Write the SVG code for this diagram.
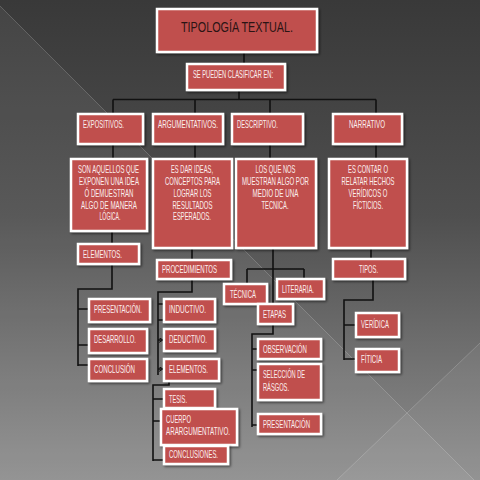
<svg xmlns="http://www.w3.org/2000/svg" width="480" height="480" viewBox="0 0 480 480">
<defs>
<linearGradient id="bg" x1="0" y1="0" x2="0" y2="1">
<stop offset="0" stop-color="#393939"/>
<stop offset="0.45" stop-color="#4f4f4f"/>
<stop offset="1" stop-color="#8e8e8e"/>
</linearGradient>
<filter id="sh" x="-10%" y="-10%" width="130%" height="140%">
<feDropShadow dx="1.5" dy="1.5" stdDeviation="1" flood-color="#000" flood-opacity="0.55"/>
</filter>
<marker id="arr" viewBox="0 0 6 6" refX="5" refY="3" markerWidth="5" markerHeight="5" orient="auto" markerUnits="userSpaceOnUse">
<path d="M0,0 L5,3 L0,6" fill="none" stroke="#111" stroke-width="1.2"/>
</marker>
<style>
.box{fill:#c0504d;stroke:#ffffff;stroke-width:2.5;filter:url(#sh)}
.t{font-family:"Liberation Sans",Arial,sans-serif;font-size:10px;fill:#fbeeee;transform:scale(0.75,1);transform-origin:0 0}
.c{text-anchor:middle}
.title{font-family:"Liberation Sans",Arial,sans-serif;font-size:15px;fill:#2a1414;text-anchor:middle}
.ln{fill:none;stroke:#111;stroke-width:1.6}
</style>
</defs>
<rect width="480" height="480" fill="url(#bg)"/>
<polygon points="0,6 474,480 0,480" fill="#ffffff" opacity="0.06"/>
<polygon points="337,480 480,343 480,480" fill="#ffffff" opacity="0.05"/>
<line x1="0" y1="6" x2="474" y2="480" stroke="#ffffff" stroke-opacity="0.18" stroke-width="1"/>
<line x1="480" y1="343" x2="337" y2="480" stroke="#ffffff" stroke-opacity="0.18" stroke-width="1"/>

<g id="connectors">
<path class="ln" d="M244,52 V64 M239,90 V99.5 M113,99.5 H376 M113,99.5 V114 M195,99.5 V114 M270,99.5 V114 M376,99.5 V114"/>
<path class="ln" d="M113,144 V159 M195,144 V159 M270,144 V159 M376,144 V159"/>
<path class="ln" d="M112,231 V244 M112,264 V289 H78 V366 M78,309 H89 M78,345 H89 M78,365 H89"/>
<path class="ln" d="M192,248 V260 M192,279 V292 H158 V375 M158,304 H164 M158,320 H164"/>
<line class="ln" x1="158" y1="340" x2="163" y2="340" marker-end="url(#arr)"/>
<line class="ln" x1="158" y1="369" x2="163" y2="369" marker-end="url(#arr)"/>
<path class="ln" d="M169,381 V385 H153 V461 M153,399 H164 M153,421 H161 M153,460 H164"/>
<path class="ln" d="M273,248 V304 M247,269 H304 M247,269 V284 M304,269 V279"/>
<path class="ln" d="M273,324 V334 H252 V427 M252,349 H258 M252,370 H258 M252,425 H258"/>
<path class="ln" d="M371,248 V259 M373,279 V300 H344 V360 M344,325 H356 M344,359 H356"/>
</g>

<g id="n-title"><rect class="box" x="157" y="9" width="160" height="43"/><text class="title" x="237" y="32" textLength="112" lengthAdjust="spacingAndGlyphs">TIPOLOGÍA TEXTUAL.</text></g>
<g id="n-clasificar"><rect class="box" x="187" y="64" width="98" height="26"/><text class="t" x="257.33" y="78.5" textLength="106.67" lengthAdjust="spacingAndGlyphs">SE PUEDEN CLASIFICAR EN:</text></g>

<g id="n-expositivos"><rect class="box" x="78" y="114" width="65" height="30"/><text class="t" x="110.67" y="128.5" textLength="54.67" lengthAdjust="spacingAndGlyphs">EXPOSITIVOS.</text></g>
<g id="n-argumentativos"><rect class="box" x="153" y="114" width="70" height="30"/><text class="t" x="210.67" y="128.5" textLength="80" lengthAdjust="spacingAndGlyphs">ARGUMENTATIVOS.</text></g>
<g id="n-descriptivo"><rect class="box" x="232" y="114" width="71" height="30"/><text class="t" x="316" y="128.5" textLength="54.67" lengthAdjust="spacingAndGlyphs">DESCRIPTIVO.</text></g>
<g id="n-narrativo"><rect class="box" x="333" y="114" width="69" height="30"/><text class="t" x="465.33" y="128.5" textLength="48" lengthAdjust="spacingAndGlyphs">NARRATIVO</text></g>

<g id="n-exp-def"><rect class="box" x="71" y="159" width="76" height="72"/>
<text class="t c" x="144.67" y="172.6" textLength="81.33" lengthAdjust="spacingAndGlyphs">SON AQUELLOS QUE</text>
<text class="t c" x="145.33" y="184.6" textLength="80" lengthAdjust="spacingAndGlyphs">EXPONEN UNA IDEA</text>
<text class="t c" x="145.33" y="196.6" textLength="65.33" lengthAdjust="spacingAndGlyphs">Ó DEMUESTRAN</text>
<text class="t c" x="145.33" y="208.6" textLength="74.67" lengthAdjust="spacingAndGlyphs">ALGO DE MANERA</text>
<text class="t c" x="146.67" y="219.6" textLength="28" lengthAdjust="spacingAndGlyphs">LÓGICA.</text></g>

<g id="n-arg-def"><rect class="box" x="153" y="159" width="79" height="89"/>
<text class="t c" x="256" y="172.6" textLength="56" lengthAdjust="spacingAndGlyphs">ES DAR IDEAS,</text>
<text class="t c" x="256.67" y="184.6" textLength="73.33" lengthAdjust="spacingAndGlyphs">CONCEPTOS PARA</text>
<text class="t c" x="256.67" y="196.6" textLength="50.67" lengthAdjust="spacingAndGlyphs">LOGRAR LOS</text>
<text class="t c" x="256.67" y="208.6" textLength="53.33" lengthAdjust="spacingAndGlyphs">RESULTADOS</text>
<text class="t c" x="256" y="219.6" textLength="50.67" lengthAdjust="spacingAndGlyphs">ESPERADOS.</text></g>

<g id="n-desc-def"><rect class="box" x="236" y="159" width="80" height="89"/>
<text class="t c" x="367.33" y="172.6" textLength="53.33" lengthAdjust="spacingAndGlyphs">LOS QUE NOS</text>
<text class="t c" x="367.33" y="184.6" textLength="89.33" lengthAdjust="spacingAndGlyphs">MUESTRAN ALGO POR</text>
<text class="t c" x="367.33" y="196.6" textLength="61.33" lengthAdjust="spacingAndGlyphs">MEDIO DE UNA</text>
<text class="t c" x="366.67" y="208.6" textLength="36" lengthAdjust="spacingAndGlyphs">TECNICA.</text></g>

<g id="n-narr-def"><rect class="box" x="329" y="159" width="78" height="89"/>
<text class="t c" x="490.67" y="172.6" textLength="53.33" lengthAdjust="spacingAndGlyphs">ES CONTAR O</text>
<text class="t c" x="490.67" y="184.6" textLength="70.67" lengthAdjust="spacingAndGlyphs">RELATAR HECHOS</text>
<text class="t c" x="490.67" y="196.6" textLength="52" lengthAdjust="spacingAndGlyphs">VERÍDICOS O</text>
<text class="t c" x="490.67" y="208.6" textLength="40" lengthAdjust="spacingAndGlyphs">FÍCTICIOS.</text></g>

<g id="n-elementos1"><rect class="box" x="78" y="244" width="61" height="20"/><text class="t" x="110.67" y="257.6" textLength="52" lengthAdjust="spacingAndGlyphs">ELEMENTOS.</text></g>
<g id="n-procedimientos"><rect class="box" x="157" y="260" width="74" height="19"/><text class="t" x="216" y="272.6" textLength="73.33" lengthAdjust="spacingAndGlyphs">PROCEDIMIENTOS</text></g>
<g id="n-tipos"><rect class="box" x="333" y="259" width="72" height="20"/><text class="t" x="478.67" y="272.6" textLength="25.33" lengthAdjust="spacingAndGlyphs">TIPOS.</text></g>

<g id="n-tecnica"><rect class="box" x="224" y="284" width="43" height="20"/><text class="t" x="306.67" y="297.6" textLength="34.67" lengthAdjust="spacingAndGlyphs">TÉCNICA</text></g>
<g id="n-literaria"><rect class="box" x="277" y="279" width="47" height="20"/><text class="t" x="376" y="292.6" textLength="42.67" lengthAdjust="spacingAndGlyphs">LITERARIA.</text></g>
<g id="n-etapas"><rect class="box" x="258" y="304" width="35" height="20"/><text class="t" x="350.67" y="317.6" textLength="30.67" lengthAdjust="spacingAndGlyphs">ETAPAS</text></g>

<g id="n-presentacion1"><rect class="box" x="89" y="299" width="61" height="23"/><text class="t" x="125.33" y="312.6" textLength="64" lengthAdjust="spacingAndGlyphs">PRESENTACIÓN.</text></g>
<g id="n-desarrollo"><rect class="box" x="89" y="329" width="58" height="24"/><text class="t" x="125.33" y="342.6" textLength="56" lengthAdjust="spacingAndGlyphs">DESARROLLO.</text></g>
<g id="n-conclusion"><rect class="box" x="89" y="359" width="58" height="22"/><text class="t" x="125.33" y="372.6" textLength="54.67" lengthAdjust="spacingAndGlyphs">CONCLUSIÓN</text></g>

<g id="n-inductivo"><rect class="box" x="164" y="299" width="51" height="23"/><text class="t" x="225.33" y="312.6" textLength="49.33" lengthAdjust="spacingAndGlyphs">INDUCTIVO.</text></g>
<g id="n-deductivo"><rect class="box" x="164" y="329" width="51" height="22"/><text class="t" x="225.33" y="342.6" textLength="50.67" lengthAdjust="spacingAndGlyphs">DEDUCTIVO.</text></g>
<g id="n-elementos2"><rect class="box" x="164" y="359" width="55" height="22"/><text class="t" x="225.33" y="372.6" textLength="52" lengthAdjust="spacingAndGlyphs">ELEMENTOS.</text></g>

<g id="n-tesis"><rect class="box" x="164" y="389" width="51" height="19"/><text class="t" x="225.33" y="402.6" textLength="24" lengthAdjust="spacingAndGlyphs">TESIS.</text></g>
<g id="n-cuerpo"><rect class="box" x="161" y="409" width="76" height="36"/>
<text class="t" x="221.33" y="422.6" textLength="33.33" lengthAdjust="spacingAndGlyphs">CUERPO</text>
<text class="t" x="221.33" y="434.6" textLength="85.33" lengthAdjust="spacingAndGlyphs">ARARGUMENTATIVO.</text></g>
<g id="n-conclusiones"><rect class="box" x="164" y="446" width="64" height="18"/><text class="t" x="225.33" y="457.6" textLength="65.33" lengthAdjust="spacingAndGlyphs">CONCLUSIONES.</text></g>

<g id="n-observacion"><rect class="box" x="258" y="339" width="63" height="20"/><text class="t" x="350.67" y="352.6" textLength="58.67" lengthAdjust="spacingAndGlyphs">OBSERVACIÓN</text></g>
<g id="n-seleccion"><rect class="box" x="258" y="364" width="63" height="36"/>
<text class="t" x="350.67" y="377.6" textLength="56" lengthAdjust="spacingAndGlyphs">SELECCIÓN DE</text>
<text class="t" x="350.67" y="390.6" textLength="34.67" lengthAdjust="spacingAndGlyphs">RÁSGOS.</text></g>
<g id="n-presentacion2"><rect class="box" x="258" y="414" width="63" height="20"/><text class="t" x="350.67" y="427.6" textLength="62.67" lengthAdjust="spacingAndGlyphs">PRESENTACIÓN</text></g>

<g id="n-veridica"><rect class="box" x="356" y="313" width="43" height="24"/><text class="t" x="481.33" y="327.6" textLength="37.33" lengthAdjust="spacingAndGlyphs">VERÍDICA</text></g>
<g id="n-fiticia"><rect class="box" x="356" y="349" width="43" height="23"/><text class="t" x="481.33" y="362.6" textLength="28" lengthAdjust="spacingAndGlyphs">FÍTICIA</text></g>
</svg>
